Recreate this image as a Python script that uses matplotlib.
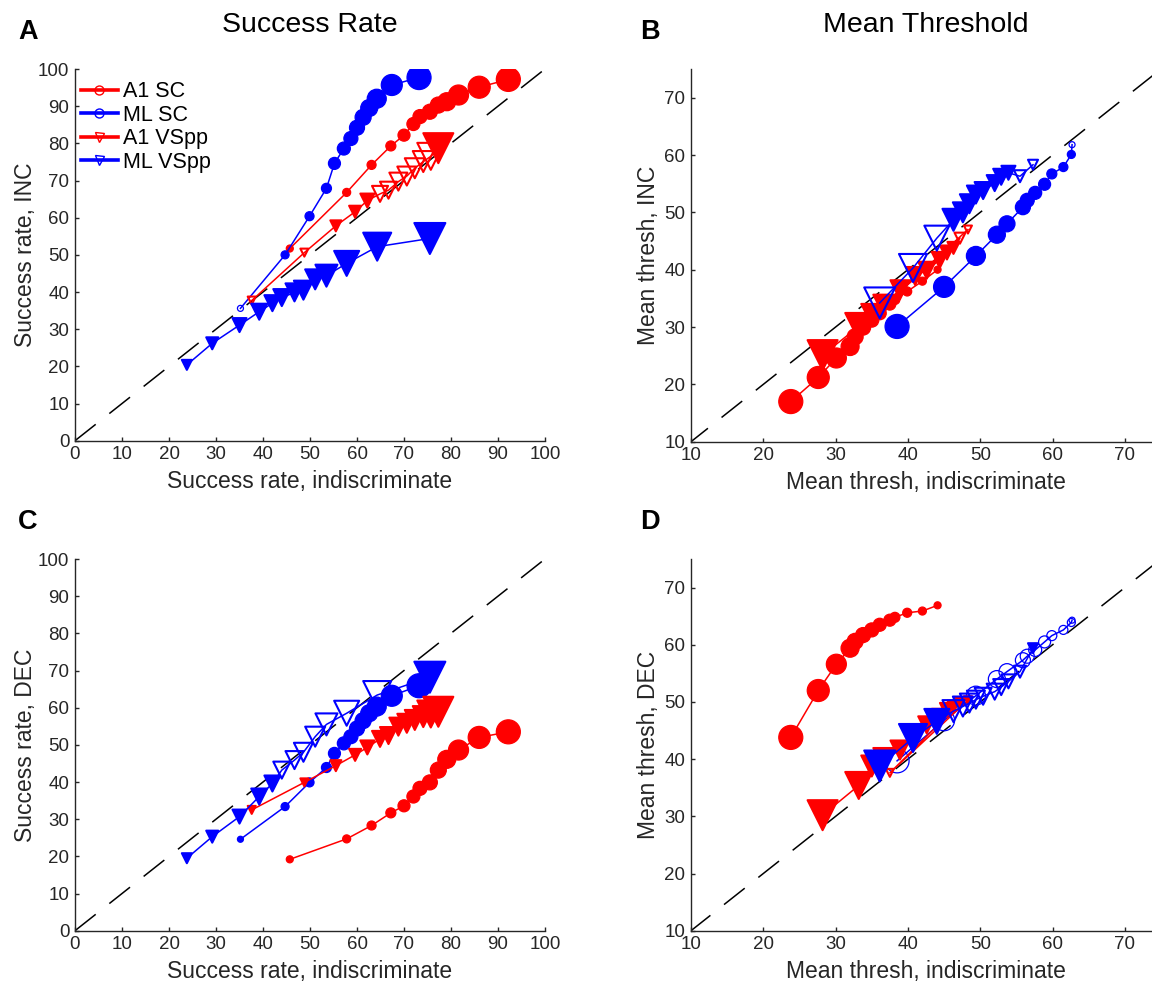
import matplotlib
matplotlib.use('Agg')
import matplotlib.pyplot as plt
from matplotlib.lines import Line2D
import numpy as np

plt.rcParams['font.family'] = ['Liberation Sans', 'DejaVu Sans']
plt.rcParams['lines.scale_dashes'] = False

# ---------------- data ----------------
series_names = ['A1 SC', 'ML SC', 'A1 VSpp', 'ML VSpp']

# success rate, indiscriminate (x of panels A and C), index 0..12
a1_sc_sr_x = [45.7, 57.8, 63.1, 67.2, 70.0, 72.0, 73.4, 75.5, 77.3, 79.1, 81.6, 86.0, 92.2]
ml_sc_sr_x = [35.2, 44.7, 49.9, 53.5, 55.2, 57.2, 58.7, 60.0, 61.3, 62.6, 64.2, 67.4, 73.2]
a1_vs_sr_x = [37.6, 48.8, 55.5, 59.6, 62.2, 64.9, 66.7, 68.8, 70.6, 72.3, 74.1, 75.7, 77.3]
ml_vs_sr_x = [23.8, 29.2, 35.0, 39.2, 42.0, 44.0, 46.7, 48.6, 51.1, 53.5, 57.8, 64.3, 75.5]

# success rate, INC (panel A)
a1_sc_sr_inc = [51.7, 66.8, 74.2, 79.3, 82.2, 85.2, 87.2, 88.5, 90.3, 91.2, 93.0, 95.1, 97.2]
ml_sc_sr_inc = [35.6, 50.0, 60.4, 67.9, 74.6, 78.6, 81.3, 84.2, 87.0, 89.5, 92.0, 95.7, 97.7]
a1_vs_sr_inc = [37.7, 50.6, 57.8, 61.6, 64.6, 66.4, 67.4, 69.7, 71.2, 73.3, 75.1, 76.5, 78.7]
ml_vs_sr_inc = [20.4, 26.2, 31.1, 34.7, 37.0, 38.5, 39.9, 40.5, 43.4, 44.4, 47.7, 52.2, 54.4]

# success rate, DEC (panel C)
a1_sc_sr_dec = [19.2, 24.7, 28.3, 31.7, 33.6, 36.1, 38.3, 39.9, 43.2, 46.1, 48.6, 52.0, 53.5]
ml_sc_sr_dec = [24.6, 33.4, 39.9, 43.9, 47.7, 50.4, 52.2, 54.4, 56.5, 58.5, 60.3, 63.2, 65.9]
a1_vs_sr_dec = [32.5, 39.9, 44.4, 47.3, 49.3, 51.6, 52.5, 54.9, 55.8, 56.7, 57.6, 58.3, 58.9]
ml_vs_sr_dec = [19.5, 25.3, 30.7, 36.1, 39.6, 43.2, 45.9, 48.0, 52.2, 55.5, 58.5, 63.4, 68.2]

# mean threshold, indiscriminate (x of panels B and D)
a1_sc_th_x = [44.1, 42.0, 39.9, 38.2, 37.5, 36.1, 35.0, 33.8, 32.7, 32.0, 30.1, 27.6, 23.8]
ml_sc_th_x = [62.7, 62.6, 61.5, 59.9, 58.9, 57.6, 56.5, 55.9, 53.7, 52.3, 49.4, 45.0, 38.5]
a1_vs_th_x = [48.3, 37.5, 47.2, 46.3, 45.4, 44.4, 42.6, 41.0, 38.9, 36.6, 35.0, 33.2, 28.2]
ml_vs_th_x = [57.3, 55.5, 53.9, 52.9, 52.0, 50.4, 49.4, 48.5, 47.6, 46.3, 44.0, 40.7, 36.1]

# mean threshold, INC (panel B)
a1_sc_th_inc = [40.0, 38.0, 36.2, 34.8, 34.0, 32.4, 31.2, 29.9, 28.3, 26.6, 24.6, 21.2, 17.0]
ml_sc_th_inc = [61.8, 60.1, 57.9, 56.7, 54.9, 53.4, 52.1, 50.9, 48.0, 46.1, 42.4, 37.0, 30.1]
a1_vs_th_inc = [47.0, 34.6, 45.5, 43.8, 43.0, 41.7, 39.9, 38.9, 36.5, 33.9, 32.2, 30.1, 25.1]
ml_vs_th_inc = [58.3, 56.3, 56.9, 56.2, 55.1, 53.8, 53.1, 51.5, 50.0, 48.7, 45.5, 40.3, 34.2]

# mean threshold, DEC (panel D)
a1_sc_th_dec = [66.9, 65.9, 65.6, 64.8, 64.3, 63.5, 62.6, 61.7, 60.6, 59.4, 56.6, 52.0, 43.8]
ml_sc_th_dec = [64.3, 63.9, 62.6, 61.6, 60.5, 59.1, 58.0, 57.3, 55.3, 54.0, 51.1, 46.8, 39.7]
a1_vs_th_dec = [50.3, 37.6, 49.8, 49.2, 48.6, 47.4, 46.0, 44.2, 41.6, 40.2, 38.8, 35.4, 30.2]
ml_vs_th_dec = [59.4, 55.3, 53.6, 52.6, 51.8, 51.0, 50.4, 49.8, 49.2, 48.4, 46.6, 43.7, 38.8]

# filled (1) / open (0) markers per panel
fill_A = {'A1 SC':   [1]*13,
          'ML SC':   [0] + [1]*12,
          'A1 VSpp': [0, 0, 1, 1, 1, 0, 0, 0, 0, 0, 0, 0, 1],
          'ML VSpp': [1]*13}
fill_B = {'A1 SC':   [1]*13,
          'ML SC':   [0] + [1]*12,
          'A1 VSpp': [0, 0, 0] + [1]*10,
          'ML VSpp': [0, 0] + [1]*8 + [0, 0, 0]}
fill_C = {'A1 SC':   [1]*13,
          'ML SC':   [1]*13,
          'A1 VSpp': [1]*13,
          'ML VSpp': [1, 1, 1, 1, 1, 0, 0, 0, 0, 0, 0, 0, 1]}
fill_D = {'A1 SC':   [1]*13,
          'ML SC':   [0]*13,
          'A1 VSpp': [1, 0] + [1]*11,
          'ML VSpp': [1] + [0]*9 + [1, 1, 1]}

# marker size per criterion index (pixels)
size_px = {'A1 SC':   [7, 8, 9, 10, 12, 13, 14, 15, 16, 18, 20, 22, 24],
           'ML SC':   [6, 8, 9, 10, 12, 13, 14, 15, 16, 17, 19, 21, 24],
           'A1 VSpp': [8, 8, 11, 12, 14, 16, 17, 18, 19, 20, 21, 27, 30],
           'ML VSpp': [10, 12, 14, 16, 16, 17, 18, 19, 20, 22, 25, 28, 31]}

# ---------------- figure ----------------
W, H, DPI = 1152, 985, 100
fig = plt.figure(figsize=(W / DPI, H / DPI), dpi=DPI)
RED, BLUE = '#ff0000', '#0000ff'
GRAY = '#262626'
colors = {'A1 SC': RED, 'ML SC': BLUE, 'A1 VSpp': RED, 'ML VSpp': BLUE}
markers = {'A1 SC': 'o', 'ML SC': 'o', 'A1 VSpp': 'v', 'ML VSpp': 'v'}


def ax_px(left, right, top, bottom):
    return fig.add_axes([left / W, 1 - bottom / H, (right - left) / W, (bottom - top) / H])


def draw(ax, xs, ys, fills):
    for name in series_names:
        c = colors[name]
        x = xs[name]
        y = ys[name]
        ax.plot(x, y, '-', color=c, lw=1.1, zorder=2)
        s = (np.array(size_px[name]) * 72 / DPI) ** 2
        fc = [c if f else (0, 0, 0, 0) for f in fills[name]]
        lw = 1.5 if markers[name] == 'v' else 0.9
        ax.scatter(x, y, s=s, marker=markers[name], facecolors=fc,
                   edgecolors=c, linewidths=lw, zorder=2)


def style(ax, lo, hi, ticks, xlabel, ylabel, ypad):
    ax.plot([0, 100], [0, 100], color='k', lw=1.1, dashes=(19, 12.5), zorder=1)
    ax.set_xlim(lo, hi)
    ax.set_ylim(lo, hi)
    ax.set_xticks(ticks)
    ax.set_yticks(ticks)
    for sp in ['top', 'right']:
        ax.spines[sp].set_visible(False)
    for sp in ['left', 'bottom']:
        ax.spines[sp].set_linewidth(1.0)
        ax.spines[sp].set_color(GRAY)
    ax.tick_params(direction='in', length=3, width=1.0, colors=GRAY,
                   labelsize=13.5, pad=4)
    ax.set_xlabel(xlabel, fontsize=16.5, color=GRAY, labelpad=5)
    ax.set_ylabel(ylabel, fontsize=16.5, color=GRAY, labelpad=ypad)


axA = ax_px(75, 545, 69, 440.7)
axB = ax_px(691, 1161, 69, 441.7)
axC = ax_px(75, 545, 559, 930.7)
axD = ax_px(691, 1161, 559, 930.7)

draw(axA,
     {'A1 SC': a1_sc_sr_x, 'ML SC': ml_sc_sr_x, 'A1 VSpp': a1_vs_sr_x, 'ML VSpp': ml_vs_sr_x},
     {'A1 SC': a1_sc_sr_inc, 'ML SC': ml_sc_sr_inc, 'A1 VSpp': a1_vs_sr_inc, 'ML VSpp': ml_vs_sr_inc},
     fill_A)
draw(axC,
     {'A1 SC': a1_sc_sr_x, 'ML SC': ml_sc_sr_x, 'A1 VSpp': a1_vs_sr_x, 'ML VSpp': ml_vs_sr_x},
     {'A1 SC': a1_sc_sr_dec, 'ML SC': ml_sc_sr_dec, 'A1 VSpp': a1_vs_sr_dec, 'ML VSpp': ml_vs_sr_dec},
     fill_C)
draw(axB,
     {'A1 SC': a1_sc_th_x, 'ML SC': ml_sc_th_x, 'A1 VSpp': a1_vs_th_x, 'ML VSpp': ml_vs_th_x},
     {'A1 SC': a1_sc_th_inc, 'ML SC': ml_sc_th_inc, 'A1 VSpp': a1_vs_th_inc, 'ML VSpp': ml_vs_th_inc},
     fill_B)
draw(axD,
     {'A1 SC': a1_sc_th_x, 'ML SC': ml_sc_th_x, 'A1 VSpp': a1_vs_th_x, 'ML VSpp': ml_vs_th_x},
     {'A1 SC': a1_sc_th_dec, 'ML SC': ml_sc_th_dec, 'A1 VSpp': a1_vs_th_dec, 'ML VSpp': ml_vs_th_dec},
     fill_D)

sr_ticks = list(range(0, 101, 10))
th_ticks = list(range(10, 71, 10))
style(axA, 0, 100, sr_ticks, 'Success rate, indiscriminate', 'Success rate, INC', 1)
style(axC, 0, 100, sr_ticks, 'Success rate, indiscriminate', 'Success rate, DEC', 1)
style(axB, 10, 75, th_ticks, 'Mean thresh, indiscriminate', 'Mean thresh, INC', 3)
style(axD, 10, 75, th_ticks, 'Mean thresh, indiscriminate', 'Mean thresh, DEC', 3)

axA.set_title('Success Rate', fontsize=20.5, color='k', pad=0, y=1.0 + 37 / 371.7)
axB.set_title('Mean Threshold', fontsize=20.5, color='k', pad=0, y=1.0 + 37 / 372.7)

handles = [Line2D([], [], color=colors[n], lw=2.6, marker=markers[n], ms=9 * 72 / DPI,
                  mfc='none', mec=colors[n], mew=1.0) for n in series_names]
axA.legend(handles, series_names, loc='upper left', bbox_to_anchor=(0.012, 0.967),
           frameon=False, fontsize=15.5, handlelength=1.75, handletextpad=0.2,
           labelspacing=0.12, borderpad=0, borderaxespad=0)

for lab, xp, yp in [('A', 18, 32), ('B', 640, 32), ('C', 18, 522), ('D', 640, 522)]:
    fig.text(xp / W, 1 - yp / H, lab, fontsize=19.5, fontweight='bold', va='center', ha='left')

fig.savefig('out.png', dpi=DPI)
